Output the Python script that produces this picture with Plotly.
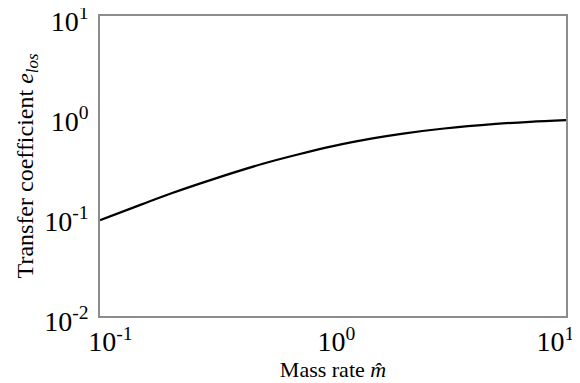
import plotly.graph_objects as go

mass_rate = [0.1, 0.15, 0.2, 0.3, 0.5, 0.7, 1.0, 1.5, 2.0, 3.0, 5.0, 7.0, 10.0]
transfer_coef = [0.091, 0.13, 0.167, 0.23, 0.333, 0.41, 0.5, 0.6, 0.667, 0.75, 0.833, 0.875, 0.909]

x_ticks = [0.1, 1, 10]
x_ticktext = ["10<sup>-1</sup>", "10<sup>0</sup>", "10<sup>1</sup>"]
y_ticks = [0.01, 0.1, 1, 10]
y_ticktext = ["10<sup>-2</sup>", "10<sup>-1</sup>", "10<sup>0</sup>", "10<sup>1</sup>"]

# shift the outer x tick labels inward, as in the reference
NB = "\u00a0"
x_ticktext_padded = [NB * 3 + x_ticktext[0], NB + x_ticktext[1], x_ticktext[2] + NB * 3]

fig = go.Figure()
fig.add_trace(go.Scatter(x=mass_rate, y=transfer_coef, mode="lines",
                         line=dict(color="black", width=2.2, shape="spline"),
                         showlegend=False))

font = dict(family="Liberation Serif, Times New Roman, serif", color="black")

# the page body adds an 8px margin, so the figure is 8px smaller than the window
fig.update_layout(
    width=572, height=375,
    margin=dict(l=92, r=14, t=8, b=67, autoexpand=False),
    paper_bgcolor="white", plot_bgcolor="white",
    font=dict(**font, size=22),
)
fig.update_xaxes(type="log", range=[-1, 1], tickvals=x_ticks, ticktext=x_ticktext_padded,
                 tickfont=dict(size=28), showgrid=False, zeroline=False,
                 showline=True, linecolor="#8c8c8c", linewidth=1.6, mirror=True,
                 ticks="", automargin=False, ticklabeloverflow="allow",
                 title=dict(text="Mass rate <i>m̂</i>", font=dict(size=22), standoff=2))
fig.update_yaxes(type="log", range=[-2, 1], tickvals=y_ticks, ticktext=y_ticktext,
                 tickfont=dict(size=28), showgrid=False, zeroline=False,
                 showline=True, linecolor="#8c8c8c", linewidth=1.6, mirror=True,
                 ticks="", ticklabelstandoff=4, ticklabelshift=5, automargin=False,
                 ticklabeloverflow="allow",
                 title=dict(text="Transfer coefficient <i>e<sub>los</sub></i>", font=dict(size=24), standoff=4))

fig.write_html("out.html")
